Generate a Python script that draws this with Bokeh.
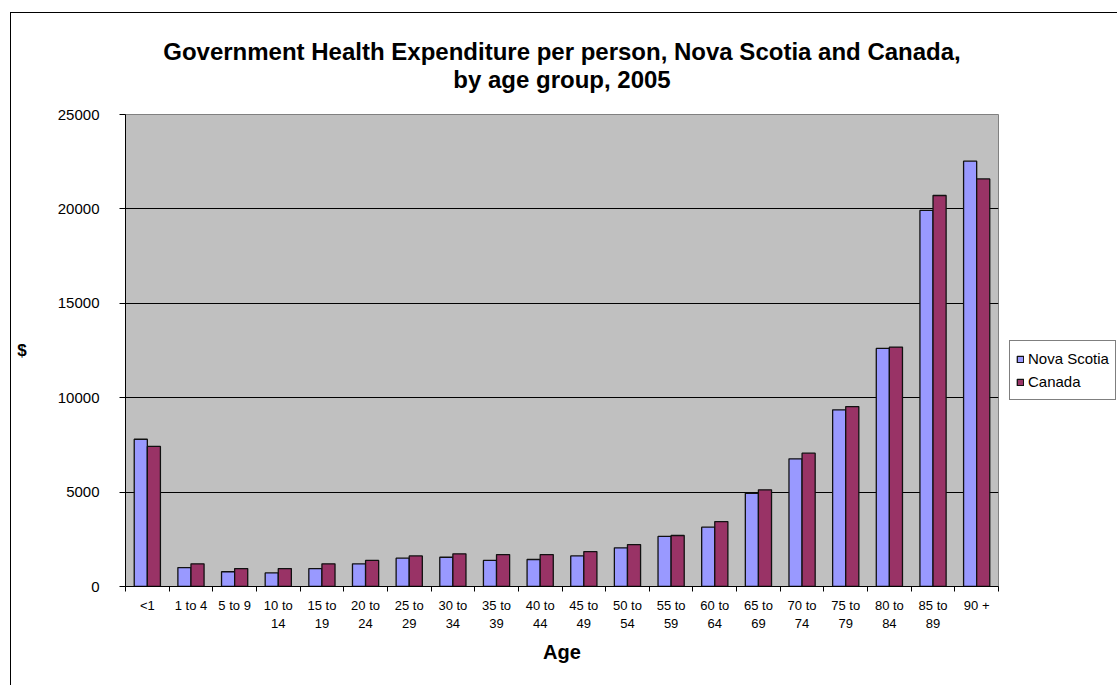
import numpy as np
from bokeh.plotting import figure
from bokeh.models import (FixedTicker, Legend, LegendItem, Title, Range1d)
from bokeh.embed import file_html
from bokeh.resources import INLINE

# ---- data ----
categories = ["<1", "1 to 4", "5 to 9", "10 to 14", "15 to 19", "20 to 24",
              "25 to 29", "30 to 34", "35 to 39", "40 to 44", "45 to 49",
              "50 to 54", "55 to 59", "60 to 64", "65 to 69", "70 to 74",
              "75 to 79", "80 to 84", "85 to 89", "90 +"]
tick_labels = ["<1", "1 to 4", "5 to 9", "10 to\n14", "15 to\n19", "20 to\n24",
               "25 to\n29", "30 to\n34", "35 to\n39", "40 to\n44", "45 to\n49",
               "50 to\n54", "55 to\n59", "60 to\n64", "65 to\n69", "70 to\n74",
               "75 to\n79", "80 to\n84", "85 to\n89", "90 +"]
nova_scotia = [7800, 1000, 780, 720, 950, 1200, 1500, 1550, 1380, 1430,
               1620, 2050, 2650, 3140, 4940, 6760, 9360, 12610, 19920, 22530]
canada = [7420, 1200, 950, 950, 1200, 1380, 1620, 1730, 1690, 1690,
          1850, 2220, 2700, 3440, 5120, 7060, 9530, 12680, 20710, 21590]
y_ticks = [0, 5000, 10000, 15000, 20000, 25000]
title_line1 = "Government Health Expenditure per person, Nova Scotia and Canada,"
title_line2 = "by age group, 2005"

FONT = "Liberation Sans"
idx = np.arange(len(categories))
bw = 0.3

p = figure(frame_width=873, frame_height=472, output_backend="svg",
           toolbar_location=None,
           x_range=Range1d(-0.5, len(categories) - 0.5), y_range=Range1d(0, 25000),
           min_border_left=114, min_border_right=119, min_border_top=101,
           min_border_bottom=99)
p.styles = {"margin-left": "10px", "margin-top": "12px",
            "border-left": "1px solid black", "border-top": "1px solid black"}
p.background_fill_color = "#C0C0C0"
p.border_fill_color = "white"
p.outline_line_color = "#808080"
p.outline_line_width = 1

r1 = p.vbar(x=idx - bw / 2, top=nova_scotia, width=bw, fill_color="#9999FF",
            line_color="#111111", line_width=1.3)
r2 = p.vbar(x=idx + bw / 2, top=canada, width=bw, fill_color="#993366",
            line_color="#111111", line_width=1.3)

# grid
p.xgrid.visible = False
p.ygrid.grid_line_color = "black"
p.ygrid.grid_line_width = 1
p.ygrid.ticker = FixedTicker(ticks=y_ticks[1:-1])

# y axis
p.yaxis.ticker = FixedTicker(ticks=y_ticks)
p.yaxis.axis_line_color = "black"
p.yaxis.major_tick_line_color = "black"
p.yaxis.major_tick_out = 6
p.yaxis.major_tick_in = 0
p.yaxis.minor_tick_line_color = None
p.yaxis.major_label_standoff = 20
p.yaxis.major_label_text_font = FONT
p.yaxis.major_label_text_font_size = "15px"
p.yaxis.major_label_text_color = "black"
p.yaxis.axis_label = "$"
p.yaxis.axis_label_orientation = "horizontal"
p.yaxis.axis_label_standoff = 28
p.yaxis.axis_label_text_font = FONT
p.yaxis.axis_label_text_font_size = "17px"
p.yaxis.axis_label_text_font_style = "bold"
p.yaxis.axis_label_text_color = "black"

# x axis
p.xaxis.ticker = FixedTicker(ticks=list(idx),
                             minor_ticks=list(np.arange(len(categories) + 1) - 0.5))
p.xaxis.major_label_overrides = {int(i): t for i, t in zip(idx, tick_labels)}
p.xaxis.axis_line_color = "black"
p.xaxis.major_tick_line_color = None
p.xaxis.major_tick_out = 5
p.xaxis.major_tick_in = 0
p.xaxis.minor_tick_line_color = "black"
p.xaxis.minor_tick_out = 5
p.xaxis.minor_tick_in = 0
p.xaxis.major_label_standoff = 6
p.xaxis.major_label_text_font = FONT
p.xaxis.major_label_text_font_size = "13px"
p.xaxis.major_label_text_color = "black"
p.xaxis.axis_label = "Age"
p.xaxis.axis_label_standoff = 7
p.xaxis.axis_label_text_font = FONT
p.xaxis.axis_label_text_font_size = "20px"
p.xaxis.axis_label_text_font_style = "bold"
p.xaxis.axis_label_text_color = "black"

# title: two centred lines (closest to the frame first)
p.add_layout(Title(text=title_line2, align="center", text_font=FONT,
                   text_font_size="24px", text_font_style="bold",
                   text_color="black", standoff=44), "above")
p.add_layout(Title(text=title_line1, align="center", text_font=FONT,
                   text_font_size="24px", text_font_style="bold",
                   text_color="black", standoff=-47), "above")

legend = Legend(items=[LegendItem(label="Nova Scotia", renderers=[r1]),
                       LegendItem(label="Canada", renderers=[r2])],
                location=(11, 186), orientation="vertical",
                padding=6, spacing=0, margin=0,
                glyph_width=8, glyph_height=8, label_height=23,
                label_standoff=4, label_text_font=FONT,
                label_text_font_size="15px", label_text_color="black",
                border_line_color="black", border_line_width=1,
                background_fill_color="white", background_fill_alpha=1)
p.add_layout(legend, "right")

open("out.html", "w").write(file_html(p, INLINE))
